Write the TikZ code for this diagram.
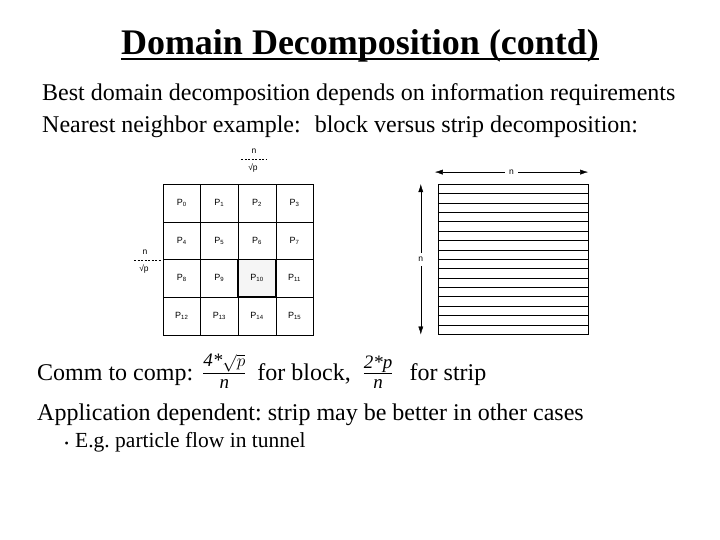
\documentclass[tikz,border=0pt]{standalone}
\usepackage{amsmath}
\usepackage{fontspec}
\setmainfont{Liberation Serif}
\newfontfamily\figfont{Liberation Sans}
\DeclareMathSizes{24}{24}{19}{14}
\frenchspacing
\usetikzlibrary{arrows.meta,positioning}

\begin{document}
\begin{tikzpicture}[x=1pt,y=-1pt,>={Latex[length=8pt,width=5pt]},
  cell/.style={draw,minimum size=37.6pt,inner sep=0pt,font=\figfont\fontsize{9}{10}\selectfont},
  hot/.style={fill=gray!8,line width=1.8pt},
  body/.style={anchor=base west,inner sep=0pt,font=\fontsize{24}{28}\selectfont},
  tiny/.style={inner sep=1pt,font=\figfont\fontsize{8.5}{9}\selectfont}]
\useasboundingbox (0,0) rectangle (720,540);
% title
\node[anchor=base,inner sep=0pt,font=\bfseries\fontsize{36}{42}\selectfont] (title) at (360,55) {Domain Decomposition (contd)};
\draw[line width=2pt] ([yshift=-4pt]title.base west) -- ([yshift=-4pt]title.base east);
\node[body] (l1) at (42,101) {Best domain decomposition depends on information requirements};
\node[body] (l2) at (42,133) {Nearest neighbor example:\hspace{14pt}block versus strip decomposition:};
% block decomposition
\foreach \i in {0,...,15}{
  \pgfmathtruncatemacro\r{int(\i/4)}
  \pgfmathtruncatemacro\c{mod(\i,4)}
  \ifnum\i=10 \def\extra{hot}\else\def\extra{}\fi
  \node[cell,\extra] (p\i) at (181.8+37.6*\c,203.1+37.6*\r) {P\textsubscript{\i}};
}
\node[tiny] (ntop) at (254,151) {n};
\node[tiny] (rtop) at (253,168) {√p};
\draw[dash pattern=on 2pt off 1.5pt] (241,159) -- (267,159);
\node[tiny] (nleft) at (145,252) {n};
\node[tiny] (rleft) at (144,269) {√p};
\draw[dash pattern=on 2pt off 1.5pt] (134,260) -- (162,260);
% strip decomposition
\node[draw,minimum width=150pt,minimum height=150pt,inner sep=0pt] (strip) at (513,259.3) {};
\foreach \k in {1,...,15}
  \draw ([yshift=-\k*9.375pt]strip.north west) -- ([yshift=-\k*9.375pt]strip.north east);
\draw[<->] ([xshift=-3pt,yshift=12pt]strip.north west) -- ([yshift=12pt]strip.north east)
  node[midway,tiny,fill=white,inner xsep=4pt] (nh) {n};
\draw[<->] ([xshift=-17pt]strip.north west) -- ([xshift=-17pt]strip.south west)
  node[midway,tiny,fill=white,inner ysep=4pt] (nv) {n};
% text below
\node[body] (comm) at (37,380) {Comm to comp:\hspace{9pt}$\frac{\textit{4*}\sqrt{p}}{\textit{n}}$\hspace{11pt}for block,\hspace{12pt}$\frac{\textit{2*p}}{\textit{n}}$\hspace{16pt}for strip};
\node[body] (app) at (37,420) {Application dependent: strip may be better in other cases};
\node[anchor=base west,inner sep=0pt,font=\fontsize{21.5}{25}\selectfont] (eg) at (75,447) {E.g. particle flow in tunnel};
\node[anchor=base east,inner sep=0pt,font=\fontsize{12}{14}\selectfont] (dot) at ([xshift=-6pt]eg.base west) {•};
\end{tikzpicture}
\end{document}
